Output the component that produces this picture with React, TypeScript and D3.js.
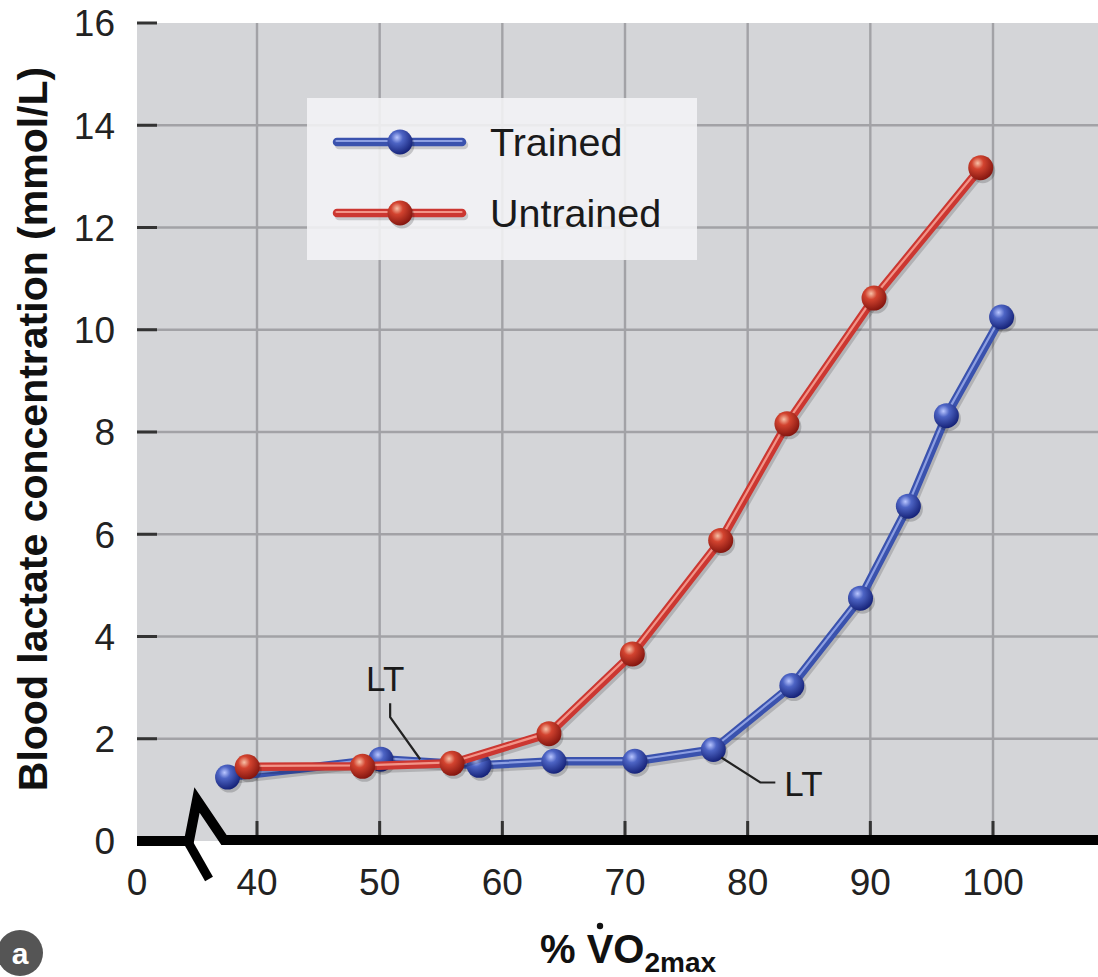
import * as d3 from 'd3';

// % VO2max vs blood lactate (mmol/L)
const trainedX = [37.6, 50.1, 58.1, 64.2, 70.8, 77.2, 83.6, 89.2, 93.1, 96.2, 100.7];
const trainedY = [1.25, 1.6, 1.48, 1.56, 1.56, 1.79, 3.04, 4.75, 6.55, 8.32, 10.25];
const untrainedX = [39.2, 48.6, 55.9, 63.8, 70.6, 77.8, 83.2, 90.3, 99.0];
const untrainedY = [1.45, 1.46, 1.52, 2.1, 3.66, 5.88, 8.16, 10.62, 13.17];

const xTicks = [40, 50, 60, 70, 80, 90, 100];
const yTicks = [0, 2, 4, 6, 8, 10, 12, 14, 16];

const W = 1098;
const H = 977;
const left = 137;
const top = 23;

const x = d3.scaleLinear().domain([40, 100]).range([257, 993]);
const y = d3.scaleLinear().domain([0, 16]).range([841, top]);

const font = '"Liberation Sans", Arial, Helvetica, sans-serif';

const series = [
  { key: 'trained', label: 'Trained', xs: trainedX, ys: trainedY, main: '#3a52ae', light: '#8d9fe2', g: 'gBlue' },
  { key: 'untrained', label: 'Untrained', xs: untrainedX, ys: untrainedY, main: '#cc3731', light: '#f29488', g: 'gRed' },
];

const line = d3.line<[number, number]>().x((d) => x(d[0])).y((d) => y(d[1]));

function Marker({ cx, cy, g }: { cx: number; cy: number; g: string }) {
  return (
    <g>
      <circle cx={cx + 2} cy={cy + 3} r={12.5} fill="rgba(0,0,0,0.18)" />
      <circle cx={cx} cy={cy} r={12.5} fill={`url(#${g})`} />
    </g>
  );
}

function Tube({ d, main, light }: { d: string; main: string; light: string }) {
  return (
    <g fill="none" strokeLinejoin="round" strokeLinecap="round">
      <path d={d} stroke="rgba(0,0,0,0.16)" strokeWidth={8.5} transform="translate(2,3)" />
      <path d={d} stroke={main} strokeWidth={8.5} />
      <path d={d} stroke={light} strokeWidth={2.2} transform="translate(-0.5,-1)" />
    </g>
  );
}

export default function App() {
  const lt1 = { px: x(53.3), py: y(1.56) };
  const lt2 = { px: x(trainedX[5]), py: y(trainedY[5]) };
  const y0 = y(0);

  return (
    <div style={{ position: 'absolute', left: 0, top: 0 }}>
      <svg width={W} height={H} style={{ display: 'block', background: '#fff' }}>
        <defs>
          <radialGradient id="gBlue" cx="38%" cy="32%" r="68%">
            <stop offset="0%" stopColor="#b9c6ff" />
            <stop offset="35%" stopColor="#4d64c4" />
            <stop offset="100%" stopColor="#17247a" />
          </radialGradient>
          <radialGradient id="gRed" cx="38%" cy="32%" r="68%">
            <stop offset="0%" stopColor="#f7c0a6" />
            <stop offset="35%" stopColor="#d2432f" />
            <stop offset="100%" stopColor="#861710" />
          </radialGradient>
        </defs>

        {/* plot area */}
        <rect x={left} y={top} width={W - left} height={y0 - top} fill="#d4d5d8" />

        {/* grid */}
        {yTicks.filter((t) => t > 0 && t < 16).map((t) => (
          <line key={'gy' + t} x1={left} x2={W} y1={y(t)} y2={y(t)} stroke="#a2a2a6" strokeWidth={2.4} />
        ))}
        {xTicks.map((t) => (
          <line key={'gx' + t} x1={x(t)} x2={x(t)} y1={top} y2={y0} stroke="#a2a2a6" strokeWidth={2.4} />
        ))}

        {/* tick marks */}
        {yTicks.filter((t) => t > 0).map((t) => (
          <line key={'ty' + t} x1={left} x2={left + 20} y1={y(t)} y2={y(t)} stroke="#333" strokeWidth={3} />
        ))}
        {xTicks.map((t) => (
          <line key={'tx' + t} x1={x(t)} x2={x(t)} y1={y0 - 20} y2={y0} stroke="#333" strokeWidth={3} />
        ))}

        {/* legend */}
        <rect x={307} y={98} width={390} height={162} fill="#f4f4f6" opacity={0.88} />
        {series.map((s, i) => {
          const ly = i === 0 ? 142 : 213;
          return (
            <g key={'leg' + s.key}>
              <Tube d={`M337,${ly}L462,${ly}`} main={s.main} light={s.light} />
              <Marker cx={400} cy={ly} g={s.g} />
              <text x={490} y={ly + 14} fontFamily={font} fontSize={39.5} fill="#1a1a1a">
                {s.label}
              </text>
            </g>
          );
        })}

        {/* series */}
        {series.map((s) => {
          const pts = s.xs.map((v, i) => [v, s.ys[i]] as [number, number]);
          return (
            <g key={s.key}>
              <Tube d={line(pts) || ''} main={s.main} light={s.light} />
              {pts.map((p, i) => (
                <Marker key={i} cx={x(p[0])} cy={y(p[1])} g={s.g} />
              ))}
            </g>
          );
        })}

        {/* LT annotations */}
        <path
          d={`M${lt1.px - 30},${lt1.py - 58}L${lt1.px - 30},${lt1.py - 44}L${lt1.px},${lt1.py - 2}`}
          fill="none" stroke="#222" strokeWidth={2.2}
        />
        <text x={lt1.px - 35} y={lt1.py - 70} textAnchor="middle" fontFamily={font} fontSize={35} fill="#1a1a1a">LT</text>
        <path
          d={`M${lt2.px + 8},${lt2.py + 8}L${lt2.px + 47},${lt2.py + 33}L${lt2.px + 62},${lt2.py + 33}`}
          fill="none" stroke="#222" strokeWidth={2.2}
        />
        <text x={lt2.px + 71} y={lt2.py + 47} fontFamily={font} fontSize={35} fill="#1a1a1a">LT</text>

        {/* x axis with break */}
        <g stroke="#000" fill="none">
          <polyline
            points={`${left},${y0} 189,${y0} 197,${y0 - 41} 224,${y0 - 1} ${W},${y0 - 1}`}
            strokeWidth={10}
            strokeLinejoin="miter"
            strokeMiterlimit={3}
          />
          <line x1={188} y1={y0 + 1} x2={209} y2={y0 + 38} strokeWidth={9} />
        </g>

        {/* tick labels */}
        {yTicks.map((t) => (
          <text key={'ly' + t} x={115} y={y(t)} dy="0.36em" textAnchor="end" fontFamily={font} fontSize={37} fill="#222">
            {t}
          </text>
        ))}
        <text x={left} y={895} textAnchor="middle" fontFamily={font} fontSize={37} fill="#222">0</text>
        {xTicks.map((t) => (
          <text key={'lx' + t} x={x(t)} y={895} textAnchor="middle" fontFamily={font} fontSize={37} fill="#222">
            {t}
          </text>
        ))}

        {/* axis titles */}
        <text
          transform={`translate(47,${429}) rotate(-90)`}
          textAnchor="middle" fontFamily={font} fontSize={41} fontWeight="bold" fill="#111"
        >
          Blood lactate concentration (mmol/L)
        </text>
        <text x={540} y={963} fontFamily={font} fontWeight="bold" fill="#111">
          <tspan fontSize={40}>% VO</tspan>
          <tspan fontSize={28} dy={9}>2max</tspan>
        </text>
        <circle cx={600} cy={926} r={3.2} fill="#111" />

        {/* panel letter */}
        <circle cx={20} cy={953} r={23} fill="#555" />
        <text x={20} y={964} textAnchor="middle" fontFamily={font} fontWeight="bold" fontSize={30} fill="#fff">a</text>
      </svg>
    </div>
  );
}
